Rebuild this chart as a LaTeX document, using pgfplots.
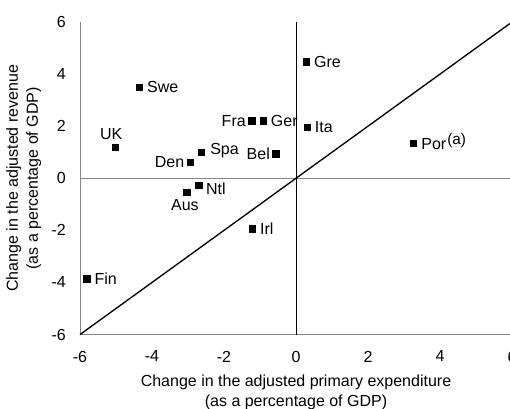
\documentclass[border=0pt]{standalone}
\usepackage{pgfplots}
\pgfplotsset{compat=1.18}
\usepackage{fontspec}
\setmainfont{Liberation Sans}
\definecolor{spine}{RGB}{134,134,134}
\begin{document}
\begin{tikzpicture}[font=\fontsize{12}{15}\selectfont]
\useasboundingbox (0,0) rectangle (382.5pt,306pt);
\begin{axis}[
  at={(60pt,55.1pt)}, anchor=south west, scale only axis,
  width=324pt, height=234.4pt,
  xmin=-6, xmax=6, ymin=-6, ymax=6,
  axis x line*=bottom, axis y line*=left,
  axis line style={draw=spine, line width=0.75pt, -},
  xtick={-6,-4,-2,0,2,4,6}, ytick={-6,-4,-2,0,2,4,6},
  major tick length=0pt,
  /pgf/number format/assume math mode=true,
  xticklabel style={yshift=-8.8pt},
  yticklabel style={xshift=-7.1pt},
  xlabel={Change in the adjusted primary expenditure\\(as a percentage of GDP)},
  ylabel={Change in the adjusted revenue\\(as a percentage of GDP)},
  xlabel style={align=center, at={(axis description cs:0.5,-0.113)}, anchor=north},
  ylabel style={align=center, at={(axis description cs:-0.079,0.5)}, anchor=south},
  clip=false,
  mark size=2.45pt,
]
% reference lines
\addplot[spine, line width=0.7pt, mark=none] coordinates {(-6,0) (6,0)};
\addplot[black, line width=0.6pt, mark=none] coordinates {(0,-6) (0,6)};
\addplot[black, line width=1pt, mark=none] coordinates {(-6,-6) (6,6)};
% labels to the right
\addplot[only marks, mark=square*, black, nodes near coords, point meta=explicit symbolic,
  every node near coord/.append style={anchor=west, inner sep=0pt, xshift=5.6pt, text depth=0pt, black}]
  table[meta=label] {
x y label
-4.35 3.50 Swe
-0.91 2.20 Ger
0.29 4.47 Gre
0.31 1.95 Ita
-1.21 -1.93 Irl
-5.81 -3.86 Fin
};
\addplot[only marks, mark=square*, black, nodes near coords, point meta=explicit symbolic,
  every node near coord/.append style={anchor=west, inner sep=0pt, xshift=6.5pt, yshift=3pt, text depth=0pt, black}]
  table[meta=label] {
x y label
-2.63 0.99 Spa
};
\addplot[only marks, mark=square*, black, nodes near coords, point meta=explicit symbolic,
  every node near coord/.append style={anchor=west, inner sep=0pt, xshift=5.3pt, yshift=-3pt, text depth=0pt, black}]
  table[meta=label] {
x y label
-2.70 -0.26 Ntl
};
\addplot[only marks, mark=square*, black, nodes near coords={Por\hspace{0.8pt}\raisebox{3.8pt}{\fontsize{11.5}{12}\selectfont(a)}},
  every node near coord/.append style={anchor=base west, inner sep=0pt, xshift=5.8pt, yshift=-4.3pt, black}]
  coordinates {(3.26,1.34)};
% labels to the left
\addplot[only marks, mark=square*, black, nodes near coords, point meta=explicit symbolic,
  every node near coord/.append style={anchor=east, inner sep=0pt, xshift=-4.3pt, text depth=0pt, black}]
  table[meta=label] {
x y label
-1.23 2.20 Fra
-2.94 0.62 Den
-0.56 0.95 Bel
};
% label above
\addplot[only marks, mark=square*, black, nodes near coords, point meta=explicit symbolic,
  every node near coord/.append style={anchor=south, inner sep=0pt, xshift=-3pt, yshift=6pt, text depth=0pt, black}]
  table[meta=label] {
x y label
-5.02 1.19 UK
};
% label below
\addplot[only marks, mark=square*, black, nodes near coords, point meta=explicit symbolic,
  every node near coord/.append style={anchor=north, inner sep=0pt, xshift=-1.5pt, yshift=-5pt, text depth=0pt, black}]
  table[meta=label] {
x y label
-3.03 -0.54 Aus
};
\end{axis}
\end{tikzpicture}
\end{document}
